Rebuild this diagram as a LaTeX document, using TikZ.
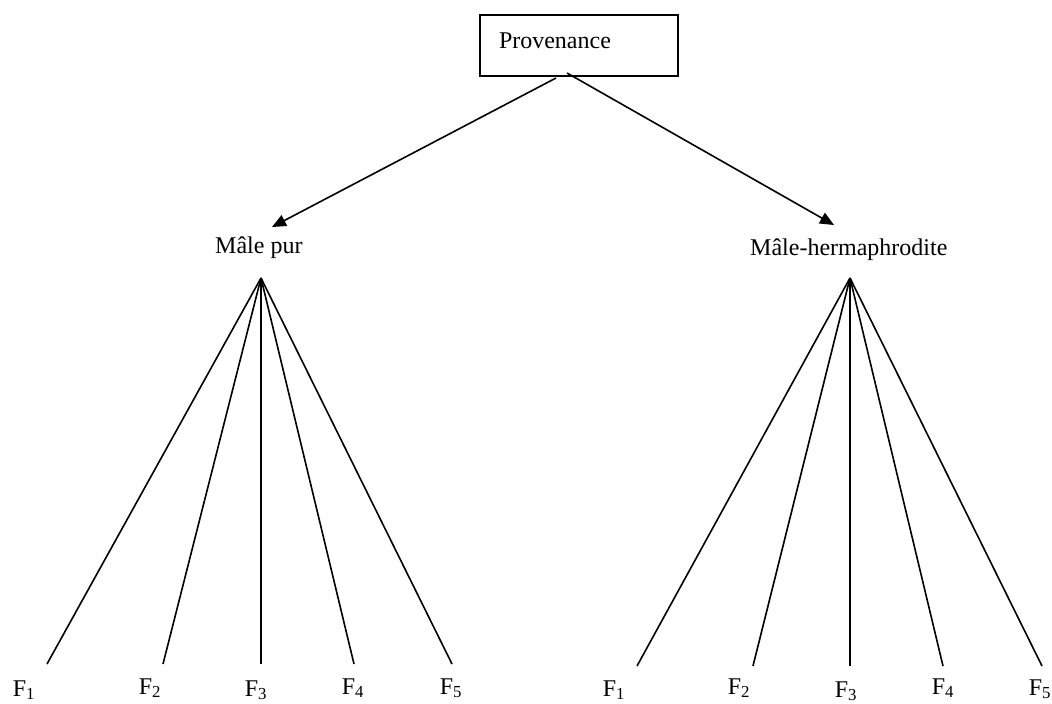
\documentclass[tikz,border=0pt]{standalone}
\usepackage{fontspec}
\setmainfont{Liberation Serif}
\usetikzlibrary{arrows.meta}
\begin{document}
\begin{tikzpicture}[x=1pt,y=-1pt,
  lbl/.style={font=\fontsize{24}{28}\selectfont, inner sep=0pt, anchor=base west},
  flbl/.style={font=\fontsize{24}{28}\selectfont, inner sep=0pt, anchor=base},
  conn/.style={line width=1.6pt},
  arr/.style={conn, -{Triangle[length=14pt,width=12pt]}},
  provbox/.style={draw, line width=2pt, minimum width=198pt, minimum height=61pt,
    text width=160pt, align=left, inner xsep=19pt, text height=17pt, text depth=12pt,
    font=\fontsize{24}{28}\selectfont}]
\useasboundingbox (0,0) rectangle (1052,704);
% top box
\node[provbox] (prov) at (579,45.5) {Provenance};
\coordinate (pl) at (556,78);
\coordinate (pr) at (567,73);
% level 2
\node[lbl] (mp) at (215,253) {Mâle pur};
\node[lbl] (mh) at (750,255) {Mâle-hermaphrodite};
\coordinate (tipl) at (272,227);
\coordinate (tipr) at (834,225);
\draw[arr] (pl) -- (tipl);
\draw[arr] (pr) -- (tipr);
% left fan
\coordinate (al) at (261,278);
\coordinate (l1) at (47,664);
\coordinate (l2) at (163,664);
\coordinate (l3) at (261,664);
\coordinate (l4) at (354,664);
\coordinate (l5) at (452,664);
\foreach \i in {1,...,5} \draw[conn] (al) -- (l\i);
\node[flbl] (lf1) at (24,696) {F\textsubscript{1}};
\node[flbl] (lf2) at (150,694) {F\textsubscript{2}};
\node[flbl] (lf3) at (256,696) {F\textsubscript{3}};
\node[flbl] (lf4) at (353,694) {F\textsubscript{4}};
\node[flbl] (lf5) at (451,694) {F\textsubscript{5}};
% right fan
\coordinate (ar) at (850,278);
\coordinate (r1) at (637,666);
\coordinate (r2) at (753,666);
\coordinate (r3) at (850,666);
\coordinate (r4) at (943,666);
\coordinate (r5) at (1042,666);
\foreach \i in {1,...,5} \draw[conn] (ar) -- (r\i);
\node[flbl] (rf1) at (614,696) {F\textsubscript{1}};
\node[flbl] (rf2) at (739,694) {F\textsubscript{2}};
\node[flbl] (rf3) at (846,697) {F\textsubscript{3}};
\node[flbl] (rf4) at (943,694) {F\textsubscript{4}};
\node[flbl] (rf5) at (1040,695) {F\textsubscript{5}};
\end{tikzpicture}
\end{document}
